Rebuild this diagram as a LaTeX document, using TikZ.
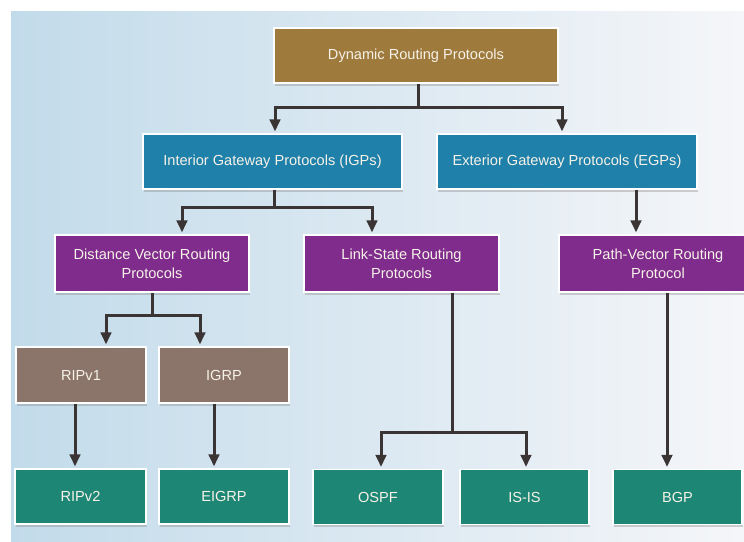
\documentclass[tikz,border=0pt]{standalone}
\usepackage{fontspec}
\setmainfont{Liberation Sans}
\usetikzlibrary{arrows.meta,shadows,calc}
\definecolor{dynC}{RGB}{158,122,60}
\definecolor{blueC}{RGB}{31,128,170}
\definecolor{purpC}{RGB}{128,44,140}
\definecolor{taupeC}{RGB}{139,117,106}
\definecolor{tealC}{RGB}{30,134,116}
\definecolor{lineC}{RGB}{58,52,52}
\definecolor{bgL}{RGB}{194,219,234}
\definecolor{bgM}{RGB}{212,228,238}
\definecolor{bgR}{RGB}{245,246,249}
\definecolor{txtC}{RGB}{246,242,232}
\tikzset{
  box/.style={draw=white, line width=1.2pt, text=txtC, align=center,
    font=\fontsize{14.6}{19}\selectfont, inner sep=0pt,
    drop shadow={opacity=0.35, shadow xshift=1pt, shadow yshift=-2.5pt}},
  conn/.style={draw=lineC, line width=3pt},
  arr/.style={conn, -{Triangle[length=12pt,width=10.5pt]}, shorten >=2pt},
}
\begin{document}
\begin{tikzpicture}[x=1pt,y=-1pt]
\useasboundingbox (0,0) rectangle (744,541);
\fill[white] (0,0) rectangle (744,541);
\shade[left color=bgL, middle color=bgM, right color=bgR] (11,11) rectangle (744,541);

\node[box, fill=dynC, minimum width=284pt, minimum height=55pt] (dyn) at (416,55.5) {Dynamic Routing Protocols};
\node[box, fill=blueC, minimum width=259pt, minimum height=55pt] (igp) at (272.5,161.5) {Interior Gateway Protocols (IGPs)};
\node[box, fill=blueC, minimum width=260pt, minimum height=55pt] (egp) at (567,161.5) {Exterior Gateway Protocols (EGPs)};
\node[box, fill=purpC, minimum width=194pt, minimum height=57pt] (dv) at (152,263.5) {Distance Vector Routing\\Protocols};
\node[box, fill=purpC, minimum width=195pt, minimum height=57pt] (ls) at (401.5,263.5) {Link-State Routing\\Protocols};
\node[box, fill=purpC, minimum width=198pt, minimum height=57pt] (pv) at (658,263.5) {Path-Vector Routing\\Protocol};
\node[box, fill=taupeC, minimum width=130pt, minimum height=56pt] (rip1) at (81,375) {RIPv1};
\node[box, fill=taupeC, minimum width=130pt, minimum height=56pt] (igrp) at (224,375) {IGRP};
\node[box, fill=tealC, minimum width=131pt, minimum height=55pt] (rip2) at (80.5,496.5) {RIPv2};
\node[box, fill=tealC, minimum width=130pt, minimum height=55pt] (eigrp) at (224,496.5) {EIGRP};
\node[box, fill=tealC, minimum width=130pt, minimum height=55pt] (ospf) at (378,497) {OSPF};
\node[box, fill=tealC, minimum width=129pt, minimum height=55pt] (isis) at (524.5,497) {IS-IS};
\node[box, fill=tealC, minimum width=129pt, minimum height=55pt] (bgp) at (677.5,497) {BGP};

% Dynamic -> IGP / EGP
\coordinate (j1) at ($(dyn.south)+(2,24)$);
\draw[conn] ([xshift=2pt]dyn.south) -- (j1);
\draw[arr] (j1) -| ([xshift=2.5pt]igp.north);
\draw[arr] (j1) -| ([xshift=-5pt]egp.north);

% IGP -> DV / LS
\coordinate (j2) at ($(igp.south)+(1.5,18)$);
\draw[conn] ([xshift=1.5pt]igp.south) -- (j2);
\draw[arr] (j2) -| ([xshift=30pt]dv.north);
\draw[arr] (j2) -| ([xshift=-29.5pt]ls.north);

% EGP -> PV
\draw[arr] ([xshift=69pt]egp.south) -- ([xshift=-22pt]pv.north);

% DV -> RIPv1 / IGRP
\coordinate (j3) at ($(dv.south)+(0,23)$);
\draw[conn] (dv.south) -- (j3);
\draw[arr] (j3) -| ([xshift=25pt]rip1.north);
\draw[arr] (j3) -| ([xshift=-24pt]igrp.north);

% RIPv1 -> RIPv2, IGRP -> EIGRP
\draw[arr] ([xshift=-6pt]rip1.south) -- ([xshift=-5.5pt]rip2.north);
\draw[arr] ([xshift=-10pt]igrp.south) -- ([xshift=-10pt]eigrp.north);

% LS -> OSPF / IS-IS
\coordinate (j4) at ($(ls.south)+(50.5,140)$);
\draw[conn] ([xshift=50.5pt]ls.south) -- (j4);
\draw[arr] (j4) -| ([xshift=3pt]ospf.north);
\draw[arr] (j4) -| ([xshift=1.5pt]isis.north);

% PV -> BGP
\draw[arr] ([xshift=9pt]pv.south) -- ([xshift=-10.5pt]bgp.north);
\end{tikzpicture}
\end{document}
